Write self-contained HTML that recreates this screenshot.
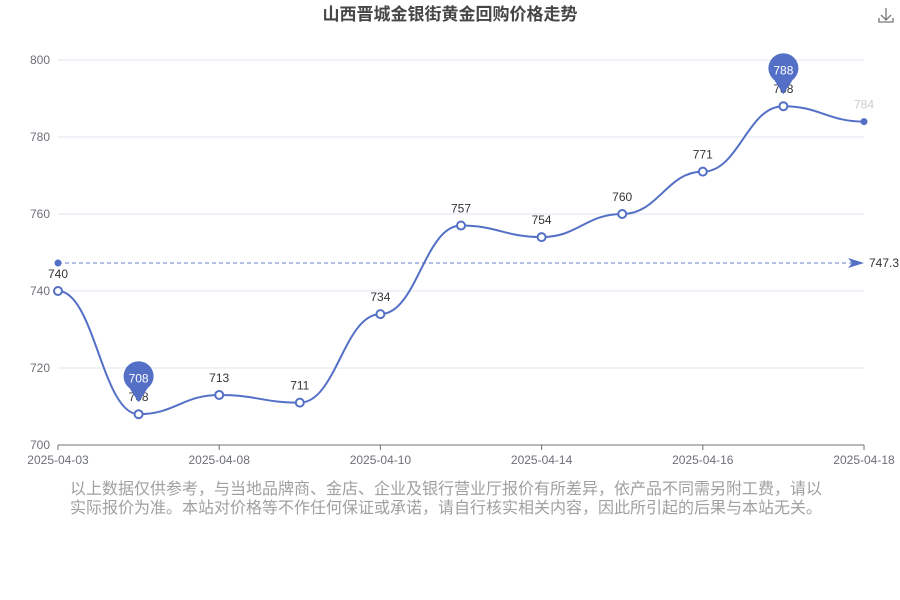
<!DOCTYPE html>
<html><head><meta charset="utf-8"><style>
body{margin:0;background:#fff;font-family:"Liberation Sans","Noto Sans CJK SC",sans-serif}
#c{position:absolute;left:0;top:0;width:900px;height:600px}
</style></head><body>
<svg id="c" width="900" height="600" xmlns="http://www.w3.org/2000/svg" font-family="Liberation Sans, Noto Sans CJK SC, sans-serif">
<text x="450" y="20" text-anchor="middle" font-size="17" font-weight="bold" fill="#464646">山西晋城金银街黄金回购价格走势</text>
<g stroke="#777" stroke-width="1.3" fill="none"><path d="M886 8v12M881 15l5 5 5-5M879 18v4h14v-4"/></g>
<g id="grid"></g><g id="axes"></g><g id="series"></g>
<text x="70" y="494" font-size="16" fill="#a0a0a0">以上数据仅供参考，与当地品牌商、金店、企业及银行营业厅报价有所差异，依产品不同需另附工费，请以</text>
<text x="70" y="513" font-size="16" fill="#a0a0a0">实际报价为准。本站对价格等不作任何保证或承诺，请自行核实相关内容，因此所引起的后果与本站无关。</text>
</svg>
<script>
const categories=["2025-04-03","2025-04-07","2025-04-08","2025-04-09","2025-04-10","2025-04-11","2025-04-14","2025-04-15","2025-04-16","2025-04-17","2025-04-18"];
const values=[740,708,713,711,734,757,754,760,771,788,784];
const yTicks=[700,720,740,760,780,800];
const NS="http://www.w3.org/2000/svg";
const x0=58,x1=864,y0=445,y1=60;
const xs=i=>x0+(x1-x0)*i/(categories.length-1);
const ys=v=>y0-(v-700)/(800-700)*(y0-y1);
function mk(t,a,p,txt){const e=document.createElementNS(NS,t);for(const k in a)e.setAttribute(k,a[k]);if(txt!==undefined)e.textContent=txt;p.appendChild(e);return e;}
const G=document.getElementById('grid'),A=document.getElementById('axes'),S=document.getElementById('series');
yTicks.forEach(v=>{
 if(v!==700){const l=mk('line',{x1:x0,x2:x1,y1:ys(v),y2:ys(v),stroke:'#e0e6f1'},G);
 
 }
 const t=mk('text',{x:50,y:ys(v)+4,'text-anchor':'end','font-size':12,fill:'#6e7079'},A,v);
 
 
});
const ax=mk('line',{x1:x0,x2:x1,y1:y0,y2:y0,stroke:'#6e7079'},A);


categories.forEach((c,i)=>{
 if(i%2)return;
 const tk=mk('line',{x1:xs(i),x2:xs(i),y1:y0,y2:y0+5,stroke:'#6e7079'},A);
 
 
 const t=mk('text',{x:xs(i),y:y0+19,'text-anchor':'middle','font-size':12,fill:'#6e7079'},A,c);
 
 
});
// average line
const avg=values.reduce((a,b)=>a+b,0)/values.length;
const ml=mk('line',{x1:x0,x2:x1-8,y1:ys(avg),y2:ys(avg),stroke:'#5470c6','stroke-dasharray':'4,3','stroke-opacity':0.9},S);


const mc=mk('circle',{cx:x0,cy:ys(avg),r:3.5,fill:'#5470c6'},S);


const ma=mk('path',{d:`M${x1-16} ${ys(avg)-5}L${x1} ${ys(avg)}L${x1-16} ${ys(avg)+5}L${x1-12} ${ys(avg)}Z`,fill:'#5470c6'},S);


const mt=mk('text',{x:x1+5,y:ys(avg)+4,'font-size':12,fill:'#333'},S,avg.toFixed(1));


// line
let d=`M${xs(0)} ${ys(values[0])}`;
for(let i=1;i<values.length;i++){const xa=xs(i-1),xb=xs(i),ya=ys(values[i-1]),yb=ys(values[i]);const dx=(xb-xa)*0.45;d+=`C${xa+dx} ${ya} ${xb-dx} ${yb} ${xb} ${yb}`;}
const ln=mk('path',{d,fill:'none',stroke:'#5470c6','stroke-width':2},S);


const maxI=values.indexOf(Math.max(...values)),minI=values.indexOf(Math.min(...values));
values.forEach((v,i)=>{
 const last=i===values.length-1;
 const p=mk('circle',{cx:xs(i),cy:ys(v),r:last?2.5:4,fill:last?'#5470c6':'#fff',stroke:'#5470c6','stroke-width':2},S);
 
 
 const t=mk('text',{x:xs(i),y:ys(v)-13,'text-anchor':'middle','font-size':12,fill:last?'#ccc':'#333'},S,v);
 
 
});
[maxI,minI].forEach(i=>{
 const cx=xs(i),tip=ys(values[i])-12,cy=tip-24;
 const pin=mk('path',{d:`M${cx} ${tip}L${cx-9} ${cy+10}A15 15 0 1 1 ${cx+9} ${cy+10}Z`,fill:'#5470c6'},S);
 
 
 const t=mk('text',{x:cx,y:cy+4.5,'text-anchor':'middle','font-size':12,fill:'#fff'},S,values[i]);
 
 
});
</script>
</body></html>
